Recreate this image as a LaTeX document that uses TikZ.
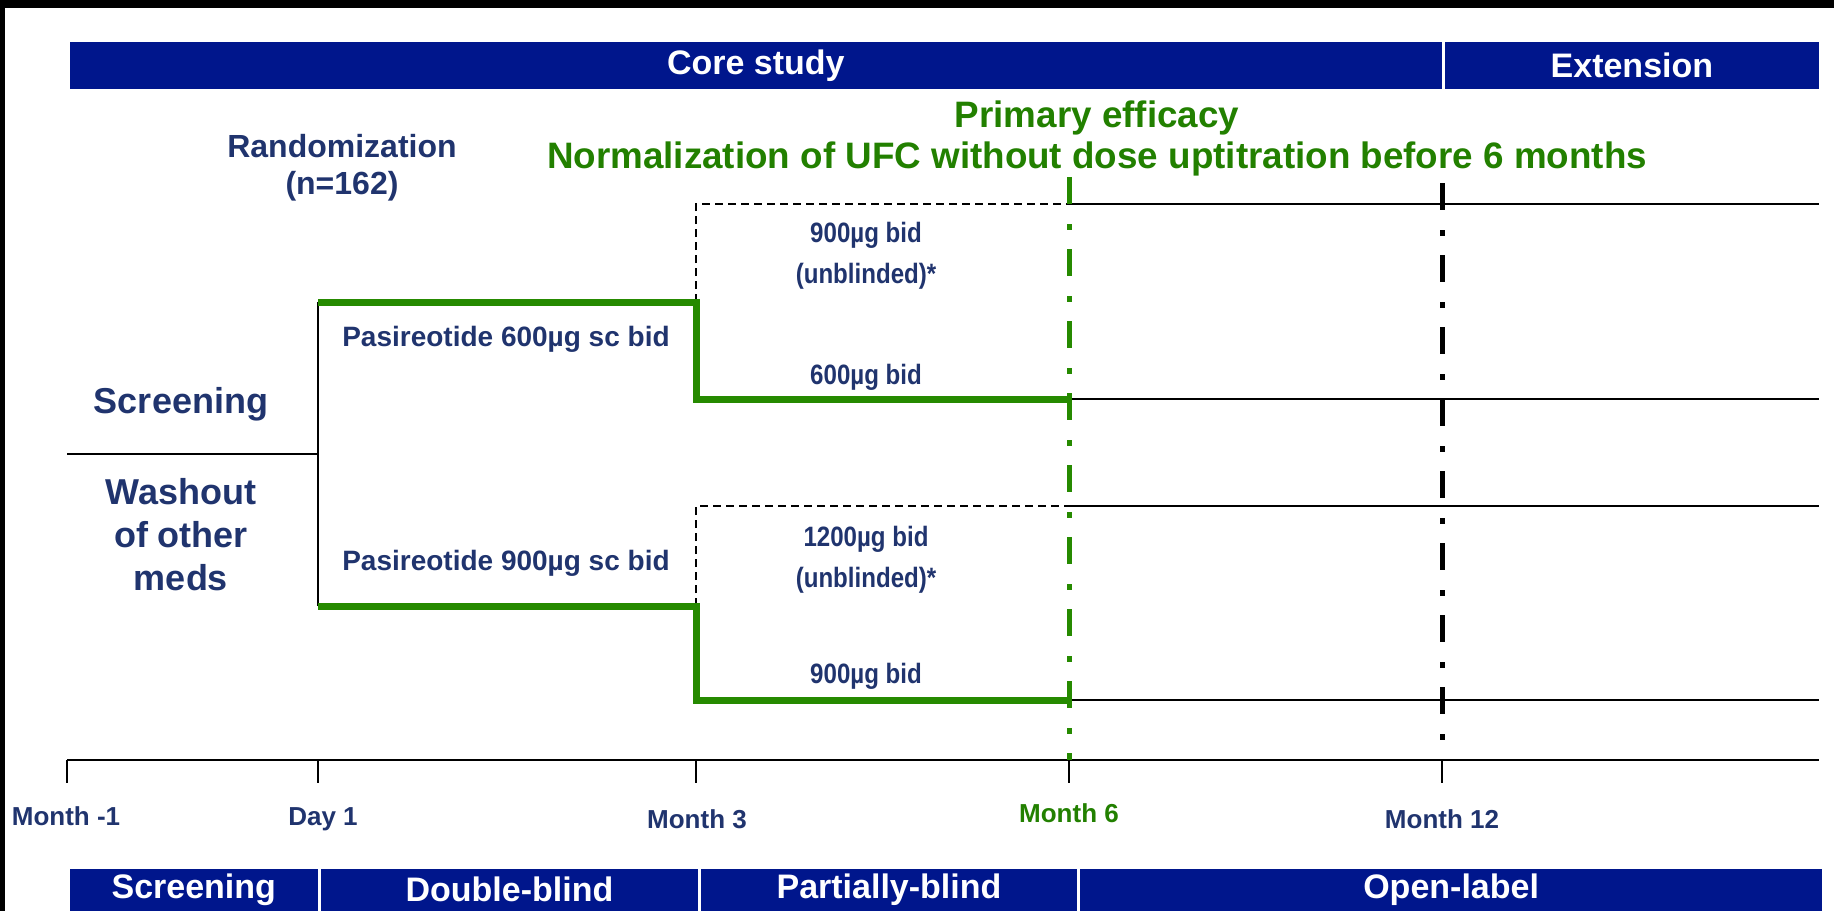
\documentclass[tikz,border=0pt]{standalone}
\usepackage{fontspec}
\setmainfont{Liberation Sans}
\newfontfamily\dosefont[FakeStretch=0.86]{Liberation Sans}
\usetikzlibrary{positioning}

\definecolor{barblue}{RGB}{0,22,140}
\definecolor{txtblue}{RGB}{32,52,110}
\definecolor{armgreen}{RGB}{38,138,0}
\definecolor{effgreen}{RGB}{34,128,0}

\begin{document}
\begin{tikzpicture}[
  x=0.5pt, y=-0.5pt,
  font=\bfseries,
  bar/.style={draw=white,line width=0.8pt,fill=barblue,text=white,inner sep=0pt,anchor=north west,
    minimum height=24.5pt,font=\fontsize{17}{20}\selectfont\bfseries},
  lowbar/.style={bar,minimum height=22pt},
  lbl/.style={text=txtblue,align=center,inner sep=1pt},
  tlbl/.style={lbl,font=\fontsize{13}{15}\selectfont\bfseries},
  dose/.style={lbl,font=\dosefont\fontsize{14}{20.5}\selectfont\bfseries},
  arm/.style={armgreen,line width=3.5pt},
  thinline/.style={black,line width=1pt},
  boxline/.style={black,line width=0.8pt,dash pattern=on 4pt off 2.5pt},
  cutline/.style={line width=2.5pt,dash pattern=on 13.5pt off 10pt on 3pt off 9.5pt}
]
\useasboundingbox (0,0) rectangle (1834,911);
\fill[black] (0,0) rectangle (1834,8);
\fill[black] (0,0) rectangle (5,911);

% --- Phase bars ---
\node[bar,minimum width=687pt]   (core) at (68,40)           {Core study};
\node[bar,minimum width=187.5pt] (ext)  at (core.north east) {Extension};

\node[lowbar,minimum width=125pt]   (pscr)  at (68,867)          {Screening};
\node[lowbar,minimum width=189pt]   (pdb)   at (pscr.north east) {Double-blind};
\node[lowbar,minimum width=189pt]   (ppb)   at (pdb.north east)  {Partially-blind};
\node[lowbar,minimum width=371.5pt] (pol)   at (ppb.north east)  {Open-label};

% --- Time axis ---
\coordinate (m0)   at (67,760);
\coordinate (d1)   at (318,760);
\coordinate (m3)   at (696,760);
\coordinate (m6)   at (1069,760);
\coordinate (m12)  at (1442,760);
\coordinate (mend) at (1819,760);
\draw[thinline] (m0) -- (mend);
\foreach \t in {m0,d1,m3,m6,m12}
  \draw[thinline] (\t) -- ++(0,23);

\node[tlbl] (lm0)  at (66,816)   {Month -1};
\node[tlbl] (ld1)  at (323,819)  {Day 1};
\node[tlbl] (lm3)  at (697,819)  {Month 3};
\node[tlbl,text=effgreen] (lm6) at (1069,813) {Month 6};
\node[tlbl] (lm12) at (1442,819) {Month 12};

% --- Arm corners ---
\coordinate (sw)  at (67,454);
\coordinate (rnd) at (318,454);
\coordinate (a1) at (318,302);  \coordinate (b1) at (318,606);
\coordinate (a2) at (696,302);  \coordinate (b2) at (696,606);
\coordinate (a3) at (696,399);  \coordinate (b3) at (696,700);
\coordinate (a4) at (1069,399); \coordinate (b4) at (1069,700);
\coordinate (a5) at (1819,399); \coordinate (b5) at (1819,700);
\coordinate (u1) at (696,204);  \coordinate (v1) at (696,506);
\coordinate (u2) at (1069,204); \coordinate (v2) at (1069,506);
\coordinate (u3) at (1819,204); \coordinate (v3) at (1819,506);

% --- Flows ---
\draw[thinline] (sw) -- (rnd);
\draw[thinline] (a1) -- (b1);
\draw[thinline] (a4) -- (a5);
\draw[thinline] (b4) -- (b5);
\draw[thinline] (u2) -- (u3);
\draw[thinline] (v2) -- (v3);
\draw[boxline] (a2) -- (u1) -- (u2);
\draw[boxline] (b2) -- (v1) -- (v2);
\draw[arm] (a1) -- (a2) -- (a3) -- (a4);
\draw[arm] (b1) -- (b2) -- (b3) -- (b4);

% --- Cut-off lines ---
\draw[cutline,armgreen] (1069,177) -- (m6);
\draw[cutline,black]    (1442,183) -- (m12);

% --- Labels ---
\node[lbl,font=\fontsize{18.4}{20.5}\selectfont\bfseries,text=effgreen] (eff) at (1097,138)
  {Primary efficacy\\Normalization of UFC without dose uptitration before 6 months};
\node[lbl,font=\fontsize{16}{18.5}\selectfont\bfseries] (rand) at (342,168) {Randomization\\(n=162)};
\node[lbl,font=\fontsize{18}{21.5}\selectfont\bfseries] (scr)  at (181,404) {Screening};
\node[lbl,font=\fontsize{18}{21.5}\selectfont\bfseries] (wash) at (181,535) {Washout\\of other\\meds};

\node[lbl,font=\fontsize{14}{16}\selectfont\bfseries] (pas6) at (506,339) {Pasireotide 600µg sc bid};
\node[lbl,font=\fontsize{14}{16}\selectfont\bfseries] (pas9) at (506,563) {Pasireotide 900µg sc bid};

\node[dose] (up9)  at (866,256) {900µg bid\\(unblinded)*};
\node[dose] (st6)  at (866,377) {600µg bid};
\node[dose] (up12) at (866,560) {1200µg bid\\(unblinded)*};
\node[dose] (st9)  at (866,676) {900µg bid};
\end{tikzpicture}
\end{document}
